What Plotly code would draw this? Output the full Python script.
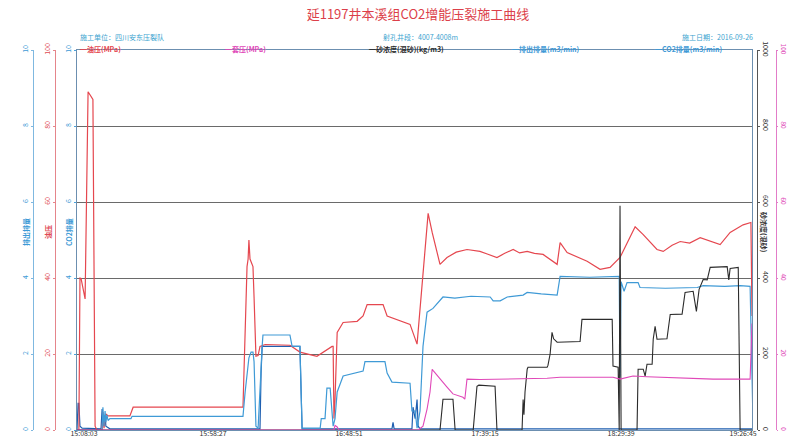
import plotly.graph_objects as go

# elapsed minutes since 15:08:03
tick_labels = ["15:08:03", "15:58:27", "16:48:51", "17:39:15", "18:29:39", "19:26:45"]
tick_pos = [2.6, 50.4, 100.8, 151.2, 201.6, 246.8]
grid_pos = [50.4, 100.8, 151.2, 201.6]

# 油压 (MPa)
tp_x = [0, 0.7, 1.1, 1.5, 3.0, 4.1, 5.9, 6.7, 7.4, 9.3, 9.6, 10.0, 10.7, 11.5, 19.6, 20.8,
        61.5, 62.3, 63.0, 63.4, 63.7, 64.1, 65.2, 65.6, 66.3, 67.1, 67.8, 69.7, 78.9, 82.6,
        88.9, 94.5, 94.9, 95.2, 95.6, 96.4, 98.6, 103.8, 106.0, 107.5, 113.4, 114.9, 123.4,
        126.0, 127.9, 130.1, 131.6, 134.5, 137.1, 140.5, 144.5, 149.3, 152.0, 155.6, 158.5,
        161.6, 164.0, 166.8, 169.5, 172.7, 177.9, 179.0, 181.6, 185.0, 189.0, 193.8, 197.5,
        201.2, 206.8, 209.8, 214.9, 217.2, 220.5, 223.5, 227.0, 230.9, 234.5, 238.3, 242.0,
        246.8, 249.7, 250.1]
tp_y = [0, 0, 40, 39.9, 34.5, 89, 87, 1, 0, 0, 4.7, 0.5, 4.2, 3.7, 3.7, 6.0,
        6.0, 30, 43, 45, 50, 45, 43, 35, 19.4, 19.6, 22, 22.5, 22.3, 20.5,
        19.4, 22, 22, 3, 8, 25.7, 28.3, 28.6, 30, 33, 33, 30, 27.8,
        22.6, 37.8, 57, 52, 43.6, 45.4, 46.8, 47.5, 47, 46.3, 45.4, 46.5,
        47.5, 46.6, 47, 46.5, 46.2, 43.6, 49.3, 46.7, 45.6, 44.4, 42.3, 42.8,
        45.4, 53.5, 51.4, 47.5, 47, 48.6, 49.6, 49.2, 50.6, 49.8, 48.8, 52,
        54, 54.6, 30]

# 套压 (MPa)
cp_x = [0, 95.2, 95.6, 96.4, 97.0, 126.4, 128.2, 129.7, 130.8, 131.6, 131.9, 134.5, 137.1,
        139.3, 143.0, 143.7, 144.5, 149.3, 161.6, 174.2, 179.0, 198.6, 201.2, 206.0, 211.2,
        223.5, 235.7, 249.4, 250.1]
cp_y = [0, 0, 1.2, 0.8, 0, 0, 1, 5.5, 10, 16, 15.7, 13.4, 11.3,
        9.5, 8.6, 8.1, 13.4, 13.3, 13.4, 13.6, 13.9, 13.9, 13.4, 14.2, 14.0,
        13.6, 13.4, 13.4, 28]

# 砂浓度(混砂) (kg/m3)
sand_x = [0, 134.5, 135.6, 139.3, 140.1, 146.8, 148.2, 148.9, 154.9, 155.6, 164.9, 165.3,
          165.6, 166.0, 166.8, 167.1, 174.2, 174.5, 175.3, 176.0, 176.6, 177.9, 186.4, 187.1,
          198.3, 198.6, 200.5, 200.9, 201.2, 201.6, 207.5, 207.9, 209.8, 210.5, 211.2, 213.1,
          213.5, 214.2, 214.9, 218.6, 219.8, 224.2, 225.3, 228.3, 229.5, 230.5, 232.0, 233.5,
          234.6, 240.9, 241.5, 242.0, 245.0, 245.7, 250.1]
sand_y = [0, 0, 81, 81, 0, 0, 115, 118, 115, 0, 0, 80,
          40, 100, 160, 165, 165, 170, 200, 257, 240, 231, 233, 291,
          291, 168, 165, 0, 590, 0, 0, 160, 160, 142, 173, 173,
          239, 273, 239, 240, 304, 305, 362, 365, 312, 370, 396, 395,
          428, 430, 395, 425, 428, 0, 0]

# 排出排量 (m3/min)
out_x = [0, 9.3, 9.6, 10.0, 10.4, 10.7, 11.1, 11.5, 12.2, 20.0, 20.4, 61.5, 62.3, 63.0, 63.7,
         64.5, 65.2, 65.6, 66.3, 67.1, 67.8, 68.6, 68.9, 78.9, 79.7, 82.6, 83.4, 90.1, 90.5,
         91.9, 92.6, 93.8, 94.9, 95.6, 96.4, 98.6, 106.0, 106.7, 114.1, 114.9, 116.7, 123.4,
         124.1, 125.3, 126.0, 127.1, 128.2, 129.7, 131.9, 134.5, 135.6, 140.0, 146.0, 153.1,
         154.2, 156.8, 159.4, 165.3, 166.8, 172.0, 177.9, 179.0, 190.0, 200.9, 201.2, 201.6,
         202.7, 203.8, 207.9, 208.6, 218.0, 229.8, 232.0, 240.0, 245.7, 249.4, 250.5]
out_y = [0, 0, 0.6, 0.1, 0.5, 0.2, 0.4, 0.25, 0.3, 0.3, 0.36, 0.36, 1.0, 1.5, 1.9,
         2.05, 2.05, 1.8, 0.1, 0.05, 1.2, 2.2, 2.5, 2.5, 2.2, 2.2, 0.05, 0.05, 0.3,
         0.3, 1.1, 1.1, 0.1, 0.3, 1.0, 1.42, 1.55, 1.8, 1.8, 1.5, 1.26, 1.23,
         0.5, 0.5, 0.05, 0.5, 2.2, 3.1, 3.2, 3.4, 3.5, 3.47, 3.52, 3.5,
         3.4, 3.4, 3.5, 3.55, 3.62, 3.58, 3.55, 4.04, 4.02, 4.04, 1.4, 3.9,
         3.65, 3.88, 3.88, 3.75, 3.73, 3.75, 3.8, 3.78, 3.8, 3.78, 0.1]

# CO2排量 (m3/min)
co2_x = [0, 0.4, 0.7, 1.1, 1.9, 8.9, 9.3, 9.6, 10.4, 10.7, 12.2, 67.8, 68.2, 68.6, 82.6, 83.4,
         116.7, 117.1, 117.5, 124.1, 124.5, 125.3, 126.0, 126.4, 127.1, 250.1]
co2_y = [0, 0.7, 0.7, 0.1, 0.05, 0.03, 0.55, 0.1, 0.4, 0.1, 0.03, 0.03, 1.5, 2.2, 2.2, 0.03,
         0.03, 0.2, 0.03, 0.03, 0.6, 0.3, 0.8, 0.1, 0.03, 0.03]

RED = "#e5474f"
PINK = "#e048b8"
BLACK = "#2b2b2b"
BLUE = "#3f9ad6"
NAVY = "#1f5fb0"
FONT = "Noto Sans CJK SC"

fig = go.Figure()
fig.add_trace(go.Scatter(x=co2_x, y=co2_y, yaxis="y", mode="lines",
                         line=dict(color=NAVY, width=1.2), name="CO2排量(m3/min)"))
fig.add_trace(go.Scatter(x=out_x, y=out_y, yaxis="y3", mode="lines",
                         line=dict(color=BLUE, width=1.2), name="排出排量(m3/min)"))
fig.add_trace(go.Scatter(x=cp_x, y=cp_y, yaxis="y5", mode="lines",
                         line=dict(color=PINK, width=1.1), name="套压(MPa)"))
fig.add_trace(go.Scatter(x=sand_x, y=sand_y, yaxis="y4", mode="lines",
                         line=dict(color=BLACK, width=1.1), name="砂浓度(混砂)(kg/m3)"))
fig.add_trace(go.Scatter(x=tp_x, y=tp_y, yaxis="y2", mode="lines",
                         line=dict(color=RED, width=1.2), name="油压(MPa)"))

W, H = 788, 440
ML, MR, MT, MB = 2, 2, 50, 10
PW, PH = W - ML - MR, H - MT - MB


def px(x):
    return (x - ML) / PW


def py(y):
    return (H - MB - y) / PH


x0, x1 = px(77), px(752)

tickf = dict(family=FONT, size=7)
fig.update_layout(
    width=W, height=H,
    margin=dict(l=ML, r=MR, t=MT, b=MB, autoexpand=False),
    paper_bgcolor="white", plot_bgcolor="white",
    font=dict(family=FONT, size=7, color="#333"),
    showlegend=False,
    title=dict(text="延1197井本溪组CO2增能压裂施工曲线", x=418 / W, xanchor="center",
               y=1 - 14 / H, yanchor="middle",
               font=dict(family=FONT, size=13, color="#dc3f4a")),
    xaxis=dict(domain=[x0, x1], range=[0, 250.1], tickmode="array", tickvals=tick_pos,
               ticktext=tick_labels, showgrid=False, zeroline=False, showline=True,
               linecolor="#6c8fb0", mirror=True, ticks="", ticklabelstandoff=-3, automargin=False,
               tickfont=dict(family=FONT, size=7, color="#333")),
    xaxis2=dict(domain=[x0, x1], overlaying="x", matches="x", tickmode="array", tickvals=grid_pos,
                showticklabels=False, showgrid=True, gridcolor="#9a9a9a", gridwidth=1, zeroline=False,
                automargin=False),
    yaxis=dict(range=[0, 10], dtick=2, anchor="x", showgrid=True, gridcolor="#6a6a6a", zeroline=False,
               showline=True, linecolor="#6c8fb0", mirror=True, ticks="outside", ticklen=2,
               tickcolor="#4aa3dc", tickangle=-90, automargin=False,
               tickfont=dict(tickf, color="#3d9ad6")),
    yaxis2=dict(range=[0, 100], dtick=20, overlaying="y", anchor="free", position=px(55),
                showgrid=False, zeroline=False, showline=True, linecolor="#e5858b", ticks="outside",
                ticklen=2, tickcolor="#e5858b", tickangle=-90, automargin=False,
                tickfont=dict(tickf, color="#e04a55")),
    yaxis3=dict(range=[0, 10], dtick=2, overlaying="y", anchor="free", position=px(33),
                showgrid=False, zeroline=False, showline=True, linecolor="#7fb8e0", ticks="outside",
                ticklen=2, tickcolor="#7fb8e0", tickangle=-90, automargin=False,
                tickfont=dict(tickf, color="#3d9ad6")),
    yaxis4=dict(range=[0, 1000], dtick=200, overlaying="y", side="right", anchor="free",
                position=px(757), showgrid=False, zeroline=False, showline=True, linecolor="#555",
                ticks="outside", ticklen=2, tickcolor="#555", tickangle=90, automargin=False,
                tickfont=dict(tickf, color="#333")),
    yaxis5=dict(range=[0, 100], dtick=20, overlaying="y", side="right", anchor="free",
                position=px(776), showgrid=False, zeroline=False, showline=True, linecolor="#e27cc8",
                ticks="outside", ticklen=1, tickcolor="#e27cc8", tickangle=90, automargin=False,
                tickfont=dict(family=FONT, size=6.5, color="#e048b8")),
)

ann = []
# axis titles
for text, xp, color, ang in [("排出排量", 19, "#3d9ad6", -90), ("油压", 41, "#e04a55", -90),
                              ("CO2排量", 62, "#3d9ad6", -90), ("砂浓度(混砂)", 771, "#333", 90)]:
    ann.append(dict(text="<b>%s</b>" % text, x=px(xp), y=py(232), xref="paper", yref="paper",
                    showarrow=False, textangle=ang, font=dict(family=FONT, size=7, color=color)))

# header line
hdr = dict(family=FONT, size=7, color="#3ba3cf")
ann.append(dict(text="施工单位：四川安东压裂队", x=px(78), y=py(30), xanchor="left",
                xref="paper", yref="paper", showarrow=False, font=hdr))
ann.append(dict(text="射孔井段：4007-4008m", x=px(420), y=py(30), xanchor="center",
                xref="paper", yref="paper", showarrow=False, font=hdr))
ann.append(dict(text="施工日期：2016-09-26", x=px(755), y=py(30), xanchor="right",
                xref="paper", yref="paper", showarrow=False, font=hdr))

# legend row
for text, xp, color in [("油压(MPa)", 78, RED), ("套压(MPa)", 223, PINK),
                        ("砂浓度(混砂)(kg/m3)", 367, BLACK), ("排出排量(m3/min)", 510, BLUE),
                        ("CO2排量(m3/min)", 653, BLUE)]:
    ann.append(dict(text="<b><span style='color:%s'>━</span>%s</b>" % (color, text), x=px(xp), y=py(42),
                    xanchor="left", xref="paper", yref="paper", showarrow=False,
                    font=dict(family=FONT, size=7, color=color)))

fig.update_layout(annotations=ann)

fig.write_html("out.html", config={"displayModeBar": False},
               post_script="document.body.style.margin='0';")
